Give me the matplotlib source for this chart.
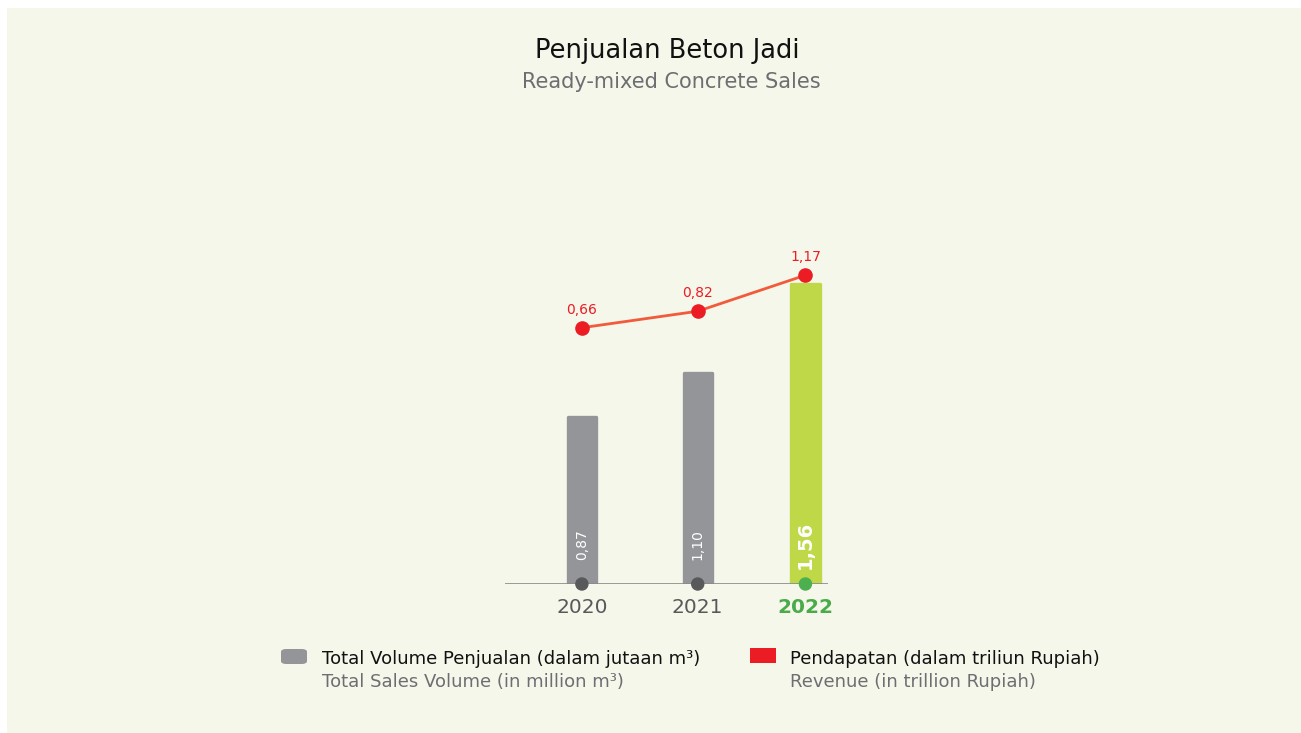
import matplotlib
matplotlib.use("Agg")
import matplotlib.pyplot as plt
from matplotlib.patches import Rectangle, FancyBboxPatch

plt.rcParams['font.family'] = ['DejaVu Sans']

years = ["2020", "2021", "2022"]
volume = [0.87, 1.10, 1.56]
revenue = [0.66, 0.82, 1.17]
volume_labels = ["0,87", "1,10", "1,56"]
revenue_labels = ["0,66", "0,82", "1,17"]

GRAY_BAR = "#939598"
LIME = "#bed848"
GREEN = "#4bab4a"
DARK_DOT = "#58595b"
RED = "#ec1c24"
LINE = "#f15a3a"
BG = "#f5f7ea"

W, H = 1301, 733
fig = plt.figure(figsize=(W / 100, H / 100), dpi=100)
fig.patch.set_facecolor("white")
fig.patches.append(Rectangle((7 / W, 0), 1, 1 - 8 / H, transform=fig.transFigure,
                             facecolor=BG, edgecolor="none", zorder=-5))

fig.text(667 / W, 1 - 51 / H, "Penjualan Beton Jadi", ha="center", va="center",
         fontsize=18.5, color="#111111")
fig.text(671 / W, 1 - 82 / H, "Ready-mixed Concrete Sales", ha="center", va="center",
         fontsize=15, color="#6d6e71")

# chart area: baseline at y=584px, x from 505 to 828px
ax = fig.add_axes([505 / W, (H - 584) / H, 323 / W, 344 / H])
ax.set_facecolor("none")
x = [0, 1, 1.93]
ax.set_xlim(-75 / 113, 1.93 + 22 / 113)
ax.set_ylim(0, 344 / 192)

colors = [GRAY_BAR, GRAY_BAR, LIME]
# same-colour round-joined edge gives the bars soft top corners
ax.bar(x, volume, width=0.274 - 0.03, color=colors, edgecolor=colors,
       linewidth=2.4, joinstyle="round", zorder=2)

for i, (xi, lab) in enumerate(zip(x, volume_labels)):
    bold = i == 2
    ax.text(xi, 0.205, lab, rotation=90, ha="center", va="center", color="white",
            fontsize=14 if bold else 10, fontweight="bold" if bold else "normal", zorder=4)

ax.axhline(0, color="#8a8a8a", lw=1.2, zorder=3)
ax.scatter(x, [0] * 3, s=75, color=[DARK_DOT, DARK_DOT, "#4caf50"], zorder=5, clip_on=False)

ax.set_xticks(x)
ax.set_xticklabels(years)
for i, t in enumerate(ax.get_xticklabels()):
    if i == 2:
        t.set_color(GREEN)
        t.set_fontweight("bold")
    else:
        t.set_color("#58595b")
    t.set_fontsize(14.5)
ax.tick_params(axis="x", length=0, pad=10)
ax.set_yticks([])
for s in ax.spines.values():
    s.set_visible(False)

# revenue line on its own scale
ax2 = ax.twinx()
ax2.set_ylim((395.7 - 584) / 103, (395.7 - 240) / 103)
ax2.plot(x, revenue, color=LINE, lw=2, zorder=3)
ax2.plot(x, revenue, "o", color=RED, ms=9.5, zorder=4)
for xi, v, lab in zip(x, revenue, revenue_labels):
    ax2.annotate(lab, (xi, v), xytext=(0, 13), textcoords="offset points",
                 ha="center", va="center", color=RED, fontsize=10)
ax2.set_yticks([])
for s in ax2.spines.values():
    s.set_visible(False)

# legend
fig.patches.append(FancyBboxPatch((281 / W, (H - 664) / H), 26 / W, 15 / H,
                                  boxstyle="round,pad=0,rounding_size=0.004",
                                  transform=fig.transFigure, facecolor=GRAY_BAR,
                                  edgecolor="none", zorder=2))
fig.patches.append(Rectangle((750 / W, (H - 663) / H), 26 / W, 15 / H,
                             transform=fig.transFigure, facecolor=RED,
                             edgecolor="none", zorder=2))
fig.text(322 / W, 1 - 659 / H, "Total Volume Penjualan (dalam jutaan m³)",
         ha="left", va="center", fontsize=13, color="#111111")
fig.text(322 / W, 1 - 682 / H, "Total Sales Volume (in million m³)",
         ha="left", va="center", fontsize=13, color="#6d6e71")
fig.text(790 / W, 1 - 659 / H, "Pendapatan (dalam triliun Rupiah)",
         ha="left", va="center", fontsize=13, color="#111111")
fig.text(790 / W, 1 - 682 / H, "Revenue (in trillion Rupiah)",
         ha="left", va="center", fontsize=13, color="#6d6e71")

fig.savefig("out.png", dpi=100, facecolor=fig.get_facecolor())
